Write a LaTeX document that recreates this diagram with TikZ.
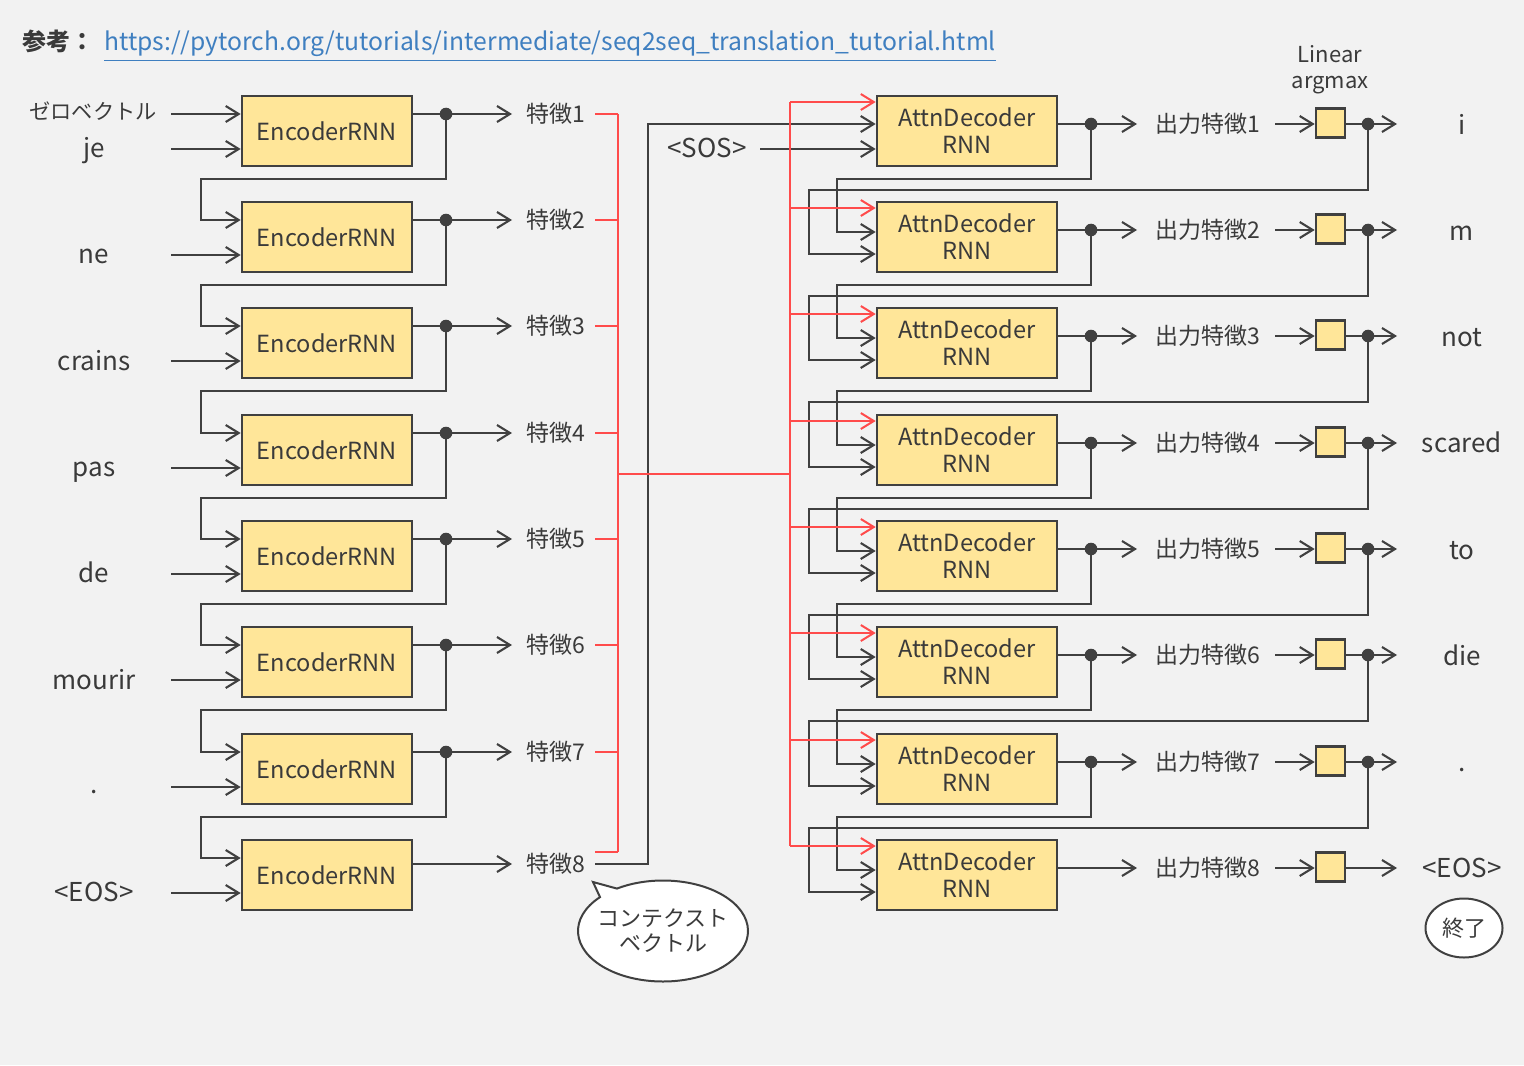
\documentclass[tikz,border=0pt]{standalone}
\usepackage{fontspec}
\setmainfont{Noto Sans CJK JP}
\usetikzlibrary{arrows.meta,shapes.geometric,shapes.callouts}
\definecolor{bg}{HTML}{F2F2F2}
\definecolor{lc}{HTML}{404040}
\definecolor{tc}{HTML}{3A3A3A}
\definecolor{yl}{HTML}{FFE699}
\definecolor{rc}{HTML}{FF4B4B}
\definecolor{urlc}{HTML}{3F7FC0}
\begin{document}
\begin{tikzpicture}[x=0.5pt,y=-0.5pt,
  ln/.style={draw=lc,line width=1.05pt},
  arr/.style={ln,-{Straight Barb[length=6.5pt,width=8pt]}},
  rln/.style={draw=rc,line width=1pt},
  rarr/.style={rln,-{Straight Barb[length=6.5pt,width=8pt]}},
  box/.style={draw=lc,line width=1.3pt,fill=yl,inner sep=0pt,text=tc,font=\fontsize{11.8}{13.5}\selectfont},
  lbox/.style={draw=lc,line width=1.3pt,fill=yl,inner sep=0pt,minimum size=14.5pt},
  dot/.style={circle,fill=lc,inner sep=0pt,minimum size=6.3pt},
  jl/.style={text=tc,inner sep=0pt,font=\fontsize{11.5}{13}\selectfont},
  wl/.style={text=tc,inner sep=0pt,anchor=base,font=\fontsize{13}{15}\selectfont},
  ]
\fill[bg] (0,0) rectangle (1524,1065);
\useasboundingbox (0,0) rectangle (1524,1065);

% title
\node[anchor=base west,inner sep=0pt,text=tc,font=\fontsize{12}{14}\selectfont\bfseries] (ref) at (22,51) {参考：};
\node[anchor=base west,inner sep=0pt,text=urlc,font=\fontsize{12.35}{14}\selectfont] (url) at (104,51) {\underline{https://pytorch.org/tutorials/intermediate/seq2seq\_translation\_tutorial.html}};

% rows
\foreach \k/\ty in {1/96,2/202,3/308,4/415,5/521,6/627,7/734,8/840}{
  \node[box,minimum width=85pt,minimum height=35pt] (enc\k) at (327,\ty+35) {EncoderRNN};
  \node[box,minimum width=90pt,minimum height=35pt,align=center] (dec\k) at (967,\ty+35) {AttnDecoder\\RNN};
  \coordinate (wi\k) at (171,\ty+53);
  \draw[arr] (wi\k) -- (wi\k -| enc\k.west);
  \node[jl] (of\k) at (1208,\ty+28) {出力特徴\k};
  \node[lbox] (lb\k) at (1330.5,\ty+27) {};
  \coordinate (la\k) at (1275,\ty+28);
  \draw[arr] (la\k) -- (la\k -| lb\k.west);
  \coordinate (oa\k) at (1137,\ty+28);
  \coordinate (wa\k) at (1397,\ty+28);
  \coordinate (rb\k) at (790,\ty+6);
}
\foreach \k/\ty in {1/96,2/202,3/308,4/415,5/521,6/627,7/734}{
  \coordinate (ed\k) at (446,\ty+18);
  \coordinate (ef\k) at (512,\ty+18);
  \draw[ln] (enc\k.east |- ed\k) -- (ed\k);
  \draw[arr] (ed\k) -- (ef\k);
  \node[jl] (f\k) at (556,\ty+18) {特徴\k};
  \coordinate (rs\k) at (595,\ty+18);
  \coordinate (od\k) at (1091,\ty+28);
  \draw[ln] (dec\k.east |- od\k) -- (od\k);
  \draw[arr] (od\k) -- (oa\k);
  \coordinate (wd\k) at (1368,\ty+28);
  \draw[ln] (lb\k.east |- wd\k) -- (wd\k);
  \draw[arr] (wd\k) -- (wa\k);
  \coordinate (ec\k) at (201,\ty+83);
  \coordinate (dc\k) at (837,\ty+83);
  \coordinate (wc\k) at (809,\ty+94);
}
% row 8
\coordinate (ef8) at (512,864);
\draw[arr] (enc8.east |- ef8) -- (ef8);
\node[jl] (f8) at (556,864) {特徴8};
\coordinate (rs8) at (595,852);
\draw[arr] (dec8.east |- oa8) -- (oa8);
\draw[arr] (lb8.east |- wa8) -- (wa8);

% loops
\foreach \k/\n/\tn in {1/2/202,2/3/308,3/4/415,4/5/521,5/6/627,6/7/734,7/8/840}{
  \coordinate (ehi\n) at (242,\tn+18);
  \draw[arr] (ed\k) |- (ec\k) |- (enc\n.west |- ehi\n);
  \coordinate (dhi\n) at (877,\tn+30);
  \draw[arr] (od\k) |- (dc\k) |- (dec\n.west |- dhi\n);
  \coordinate (dwi\n) at (877,\tn+52);
  \draw[arr] (wd\k) |- (wc\k) |- (dec\n.west |- dwi\n);
}
\foreach \k in {1,...,7}{
  \node[dot] (edd\k) at (ed\k) {};
  \node[dot] (odd\k) at (od\k) {};
  \node[dot] (wdd\k) at (wd\k) {};
}

% encoder first input
\node[jl,font=\fontsize{10.6}{13}\selectfont] (zero) at (93,111) {ゼロベクトル};
\coordinate (zi) at (171,114);
\draw[arr] (zi) -- (zi -| enc1.west);

% input words
\foreach \k/\w/\yb in {1/je/157,2/ne/263,3/crains/370,4/pas/476,5/de/582,6/mourir/689,7/./793,8/<EOS>/901}{
  \node[wl] (iw\k) at (94,\yb) {\w};
}
% output words
\foreach \k/\w/\yb in {1/i/134,2/m/240,3/not/346,4/scared/452,5/to/559,6/die/665,7/./771,8/<EOS>/877}{
  \node[wl] (ow\k) at (1462,\yb) {\w};
}

% Linear argmax
\node[text=tc,inner sep=0pt,align=center,font=\fontsize{11}{13}\selectfont] (lin) at (1330,70) {Linear\\argmax};

% context to decoder 1
\coordinate (c8s) at (595,864);
\coordinate (c8c) at (648,864);
\coordinate (dhi1) at (877,124);
\draw[arr] (c8s) -- (c8c) |- (dec1.west |- dhi1);
% SOS
\node[wl] (sos) at (707,157) {<SOS>};
\coordinate (sosa) at (760,149);
\draw[arr] (sosa) -- (sosa -| dec1.west);

% red connections
\coordinate (rbt) at (618,114);
\coordinate (rbb) at (618,852);
\coordinate (rbm) at (618,474);
\foreach \k in {1,...,8}{
  \draw[rln] (rs\k) -- (rs\k -| rbt);
  \draw[rarr] (rb\k) -- (rb\k -| dec\k.west);
}
\draw[rln] (rbt) -- (rbb);
\draw[rln] (rbm) -- (rbm -| rb1);
\draw[rln] (rb1) -- (rb8);

% callout
\coordinate (ctxtip) at (593,882);
\node[ellipse callout,draw=lc,line width=1pt,fill=white,minimum width=85pt,minimum height=50.5pt,
  callout absolute pointer={(ctxtip)},inner sep=0pt] (ctx) at (663,931) {};
\node[align=center,text=tc,inner sep=0pt,font=\fontsize{11}{12.5}\selectfont] (ctxt) at (ctx.center) {コンテクスト\\ベクトル};
% end
\node[ellipse,draw=lc,line width=1pt,fill=white,minimum width=38.5pt,minimum height=29.5pt,inner sep=0pt] (endn) at (1464,928) {};
\node[text=tc,inner sep=0pt,font=\fontsize{11}{13}\selectfont] (endt) at (endn.center) {終了};
\end{tikzpicture}
\end{document}
